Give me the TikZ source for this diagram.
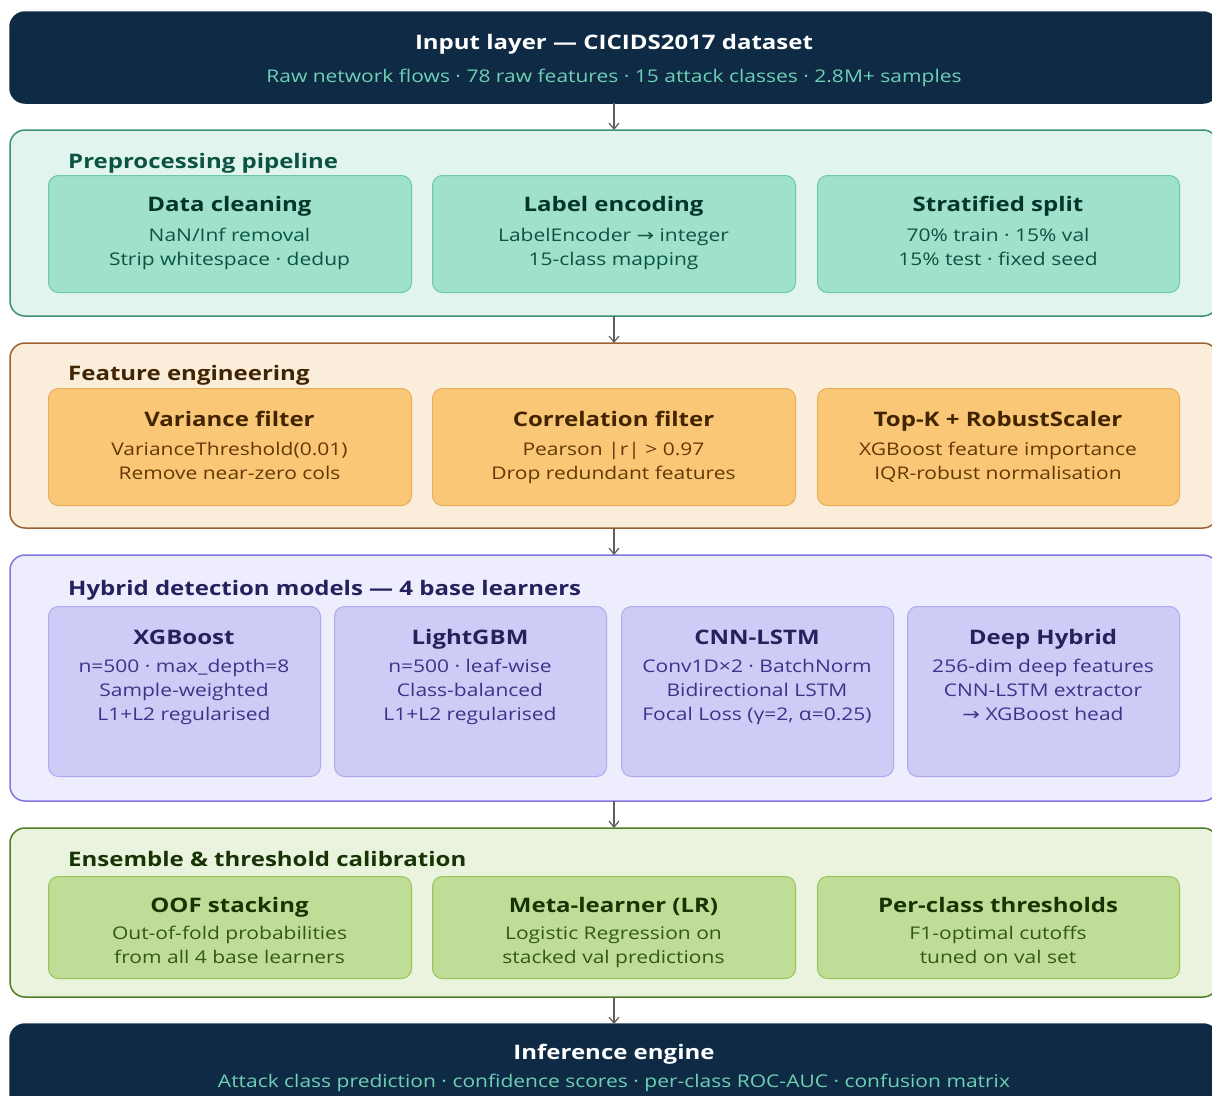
\documentclass[tikz,border=0pt]{standalone}
\usepackage{fontspec}
\setmainfont{Open Sans}[FakeStretch=1.2]
\newfontfamily\symfont{DejaVu Sans}[FakeStretch=1.2]
\usetikzlibrary{positioning,arrows.meta}

\definecolor{navy}{HTML}{0E2A45}
\definecolor{navysub}{HTML}{6FD0B4}
\definecolor{flowgray}{HTML}{5F5E5A}
% teal
\definecolor{tealbg}{HTML}{E1F5EE}
\definecolor{tealline}{HTML}{3A8F76}
\definecolor{tealcard}{HTML}{9FE1CB}
\definecolor{tealedge}{HTML}{6CC8A8}
\definecolor{tealhead}{HTML}{04342C}
\definecolor{tealtext}{HTML}{0B5443}
% amber
\definecolor{amberbg}{HTML}{FAEDDA}
\definecolor{amberline}{HTML}{9A6232}
\definecolor{ambercard}{HTML}{F9C776}
\definecolor{amberedge}{HTML}{E7AE5A}
\definecolor{amberhead}{HTML}{412402}
\definecolor{ambertext}{HTML}{633806}
% purple
\definecolor{purpbg}{HTML}{EEEDFE}
\definecolor{purpline}{HTML}{7F77DD}
\definecolor{purpcard}{HTML}{CECBF6}
\definecolor{purpedge}{HTML}{AFA9EC}
\definecolor{purphead}{HTML}{26215C}
\definecolor{purptext}{HTML}{3C3489}
% green
\definecolor{greenbg}{HTML}{EAF3DE}
\definecolor{greenline}{HTML}{4F7D25}
\definecolor{greencard}{HTML}{C0DD97}
\definecolor{greenedge}{HTML}{97C459}
\definecolor{greenhead}{HTML}{173404}
\definecolor{greentext}{HTML}{335A12}

\tikzset{
  band/.style={draw, rounded corners=15pt, line width=1.5pt, anchor=north west,
    minimum width=1208pt, inner sep=0pt, outer sep=0pt},
  card/.style={draw, rounded corners=10pt, line width=1pt, anchor=north west,
    inner sep=0pt},
  evenbox/.style={execute at begin node={\vphantom{Äg}}, execute at end node={\vphantom{Äg}}},
  bandtitle/.style={evenbox, anchor=west, font=\fontsize{20}{24}\selectfont\bfseries, inner sep=0pt},
  cardtitle/.style={evenbox, font=\fontsize{20}{24}\selectfont\bfseries, inner sep=0pt},
  cardsub/.style={evenbox, font=\fontsize{17.5}{24}\selectfont, align=center, inner sep=0pt},
  flow/.style={-{Straight Barb[length=6pt,width=10pt]}, draw=flowgray, line width=1.2pt}
}

\begin{document}
\begin{tikzpicture}[x=1pt,y=-1pt]
  \useasboundingbox (0,0) rectangle (1212,1095);

  % input layer
  \node[band, fill=navy, draw=navy, minimum height=91pt] (input) at (10,12) {};
  \node[cardtitle, text=white] (input-t) at (614,43) {Input layer — CICIDS2017 dataset};
  \node[cardsub, text=navysub] (input-s) at (614,77) {Raw network flows · 78 raw features · 15 attack classes · 2.8M+ samples};

  % preprocessing
  \node[band, fill=tealbg, draw=tealline, minimum height=186pt] (prep) at (10,130) {};
  \node[bandtitle, text=tealtext] (prep-t) at (68,162) {Preprocessing pipeline};
  \node[card, fill=tealcard, draw=tealedge, minimum width=363pt, minimum height=117pt] (clean) at (48,175) {};
  \node[card, fill=tealcard, draw=tealedge, minimum width=363pt, minimum height=117pt] (encode) at (432,175) {};
  \node[card, fill=tealcard, draw=tealedge, minimum width=362pt, minimum height=117pt] (split) at (817,175) {};
  \node[cardtitle, text=tealhead] (clean-t) at (229.5,204.5) {Data cleaning};
  \node[cardsub, text=tealtext] (clean-s) at (229.5,249) {NaN/Inf removal\\Strip whitespace · dedup};
  \node[cardtitle, text=tealhead] (encode-t) at (613.5,204.5) {Label encoding};
  \node[cardsub, text=tealtext] (encode-s) at (613.5,249) {LabelEncoder {\symfont →} integer\\15-class mapping};
  \node[cardtitle, text=tealhead] (split-t) at (998,204.5) {Stratified split};
  \node[cardsub, text=tealtext] (split-s) at (998,249) {70\% train · 15\% val\\15\% test · fixed seed};

  % feature engineering
  \node[band, fill=amberbg, draw=amberline, minimum height=185pt] (feat) at (10,343) {};
  \node[bandtitle, text=amberhead] (feat-t) at (68,374) {Feature engineering};
  \node[card, fill=ambercard, draw=amberedge, minimum width=363pt, minimum height=117pt] (var) at (48,388) {};
  \node[card, fill=ambercard, draw=amberedge, minimum width=363pt, minimum height=117pt] (corr) at (432,388) {};
  \node[card, fill=ambercard, draw=amberedge, minimum width=362pt, minimum height=117pt] (topk) at (817,388) {};
  \node[cardtitle, text=amberhead] (var-t) at (229.5,419.5) {Variance filter};
  \node[cardsub, text=ambertext] (var-s) at (229.5,463) {VarianceThreshold(0.01)\\Remove near-zero cols};
  \node[cardtitle, text=amberhead] (corr-t) at (613.5,419.5) {Correlation filter};
  \node[cardsub, text=ambertext] (corr-s) at (613.5,463) {Pearson |r| > 0.97\\Drop redundant features};
  \node[cardtitle, text=amberhead] (topk-t) at (998,419.5) {Top-K + RobustScaler};
  \node[cardsub, text=ambertext] (topk-s) at (998,463) {XGBoost feature importance\\IQR-robust normalisation};

  % hybrid models
  \node[band, fill=purpbg, draw=purpline, minimum height=246pt] (hyb) at (10,555) {};
  \node[bandtitle, text=purphead] (hyb-t) at (68,589) {Hybrid detection models — 4 base learners};
  \node[card, fill=purpcard, draw=purpedge, minimum width=272pt, minimum height=170pt] (xgb) at (48,606) {};
  \node[card, fill=purpcard, draw=purpedge, minimum width=272pt, minimum height=170pt] (lgbm) at (334,606) {};
  \node[card, fill=purpcard, draw=purpedge, minimum width=272pt, minimum height=170pt] (cnn) at (621,606) {};
  \node[card, fill=purpcard, draw=purpedge, minimum width=272pt, minimum height=170pt] (deep) at (907,606) {};
  \node[cardtitle, text=purphead] (xgb-t) at (184,637.5) {XGBoost};
  \node[cardsub, text=purptext] (xgb-s) at (184,692) {n=500 · max\_depth=8\\Sample-weighted\\L1+L2 regularised};
  \node[cardtitle, text=purphead] (lgbm-t) at (470,637.5) {LightGBM};
  \node[cardsub, text=purptext] (lgbm-s) at (470,692) {n=500 · leaf-wise\\Class-balanced\\L1+L2 regularised};
  \node[cardtitle, text=purphead] (cnn-t) at (757,637.5) {CNN-LSTM};
  \node[cardsub, text=purptext] (cnn-s) at (757,692) {Conv1D×2 · BatchNorm\\Bidirectional LSTM\\Focal Loss (γ=2, α=0.25)};
  \node[cardtitle, text=purphead] (deep-t) at (1043,637.5) {Deep Hybrid};
  \node[cardsub, text=purptext] (deep-s) at (1043,692) {256-dim deep features\\CNN-LSTM extractor\\{\symfont →} XGBoost head};

  % ensemble
  \node[band, fill=greenbg, draw=greenline, minimum height=169pt] (ens) at (10,828) {};
  \node[bandtitle, text=greenhead] (ens-t) at (68,860) {Ensemble \& threshold calibration};
  \node[card, fill=greencard, draw=greenedge, minimum width=363pt, minimum height=102pt] (oof) at (48,876) {};
  \node[card, fill=greencard, draw=greenedge, minimum width=363pt, minimum height=102pt] (meta) at (432,876) {};
  \node[card, fill=greencard, draw=greenedge, minimum width=362pt, minimum height=102pt] (thr) at (817,876) {};
  \node[cardtitle, text=greenhead] (oof-t) at (229.5,905.5) {OOF stacking};
  \node[cardsub, text=greentext] (oof-s) at (229.5,947) {Out-of-fold probabilities\\from all 4 base learners};
  \node[cardtitle, text=greenhead] (meta-t) at (613.5,905.5) {Meta-learner (LR)};
  \node[cardsub, text=greentext] (meta-s) at (613.5,947) {Logistic Regression on\\stacked val predictions};
  \node[cardtitle, text=greenhead] (thr-t) at (998,905.5) {Per-class thresholds};
  \node[cardsub, text=greentext] (thr-s) at (998,947) {F1-optimal cutoffs\\tuned on val set};

  % inference
  \node[band, fill=navy, draw=navy, minimum height=90pt] (infer) at (10,1024) {};
  \node[cardtitle, text=white] (infer-t) at (614,1053) {Inference engine};
  \node[cardsub, text=navysub] (infer-s) at (614,1082) {Attack class prediction · confidence scores · per-class ROC-AUC · confusion matrix};

  % stage arrows
  \draw[flow] (input) -- (prep);
  \draw[flow] (prep) -- (feat);
  \draw[flow] (feat) -- (hyb);
  \draw[flow] (hyb) -- (ens);
  \draw[flow] (ens) -- (infer);
\end{tikzpicture}
\end{document}
